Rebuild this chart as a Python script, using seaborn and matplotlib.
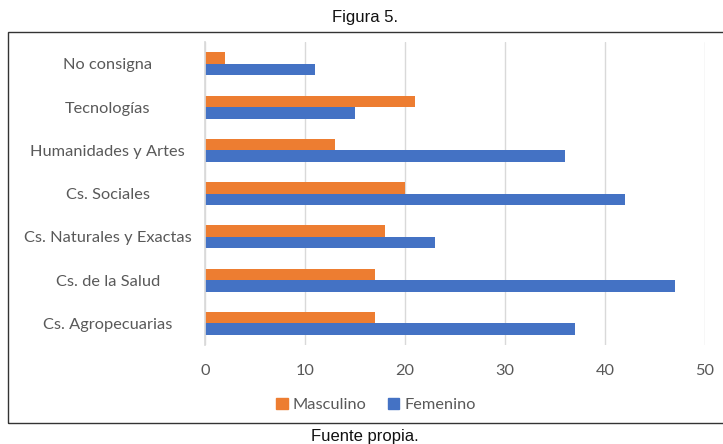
import pandas as pd
import matplotlib
matplotlib.use("Agg")
import matplotlib.pyplot as plt
import seaborn as sns
from matplotlib.patches import Rectangle

areas = ["No consigna", "Tecnologías", "Humanidades y Artes", "Cs. Sociales",
         "Cs. Naturales y Exactas", "Cs. de la Salud", "Cs. Agropecuarias"]
masculino = [2, 21, 13, 20, 18, 17, 17]
femenino = [11, 15, 36, 42, 23, 47, 37]
sexos = ["Masculino", "Femenino"]
colores = ["#ED7D31", "#4472C4"]

df = pd.DataFrame({
    "area": areas * 2,
    "valor": masculino + femenino,
    "sexo": ["Masculino"] * len(areas) + ["Femenino"] * len(areas),
})

sns.set_theme(style="white")
plt.rcParams["font.family"] = ["Lato", "DejaVu Sans"]
gris = "#595959"

fig = plt.figure(figsize=(7.23, 4.44), dpi=100)
ax = fig.add_axes([0.2835, 0.223, 0.6916, 0.682])

sns.barplot(data=df, y="area", x="valor", hue="sexo", order=areas, hue_order=sexos,
            palette=colores, width=0.53, orient="h", ax=ax, saturation=1,
            linewidth=0)

ax.set_xlim(0, 50)
ax.set_xticks(range(0, 51, 10))
ax.grid(axis="x", color="#D9D9D9", linewidth=1)
ax.set_axisbelow(True)
for s in ["top", "right", "bottom"]:
    ax.spines[s].set_visible(False)
ax.spines["left"].set_color("#D9D9D9")
ax.set_xlabel("")
ax.set_ylabel("")
ax.tick_params(axis="x", length=0, pad=14, labelsize=11.8, labelcolor=gris)
ax.tick_params(axis="y", length=0, pad=70, labelsize=11.8, labelcolor=gris)
for lbl in ax.get_yticklabels():
    lbl.set_horizontalalignment("center")

ax.get_legend().remove()
handles = [Rectangle((0, 0), 1, 1, color=c) for c in colores]
fig.legend(handles, sexos, loc="center", bbox_to_anchor=(0.52, 0.088), ncol=2,
           frameon=False, fontsize=11.8, labelcolor=gris, handlelength=0.7,
           handleheight=0.7, handletextpad=0.3, columnspacing=1.3)

# marco de la figura
fig.patches.append(Rectangle((0.011, 0.047), 1.0, 0.881, transform=fig.transFigure,
                             fill=False, edgecolor="#333333", linewidth=1))

fig.text(0.505, 0.96, "Figura 5.", ha="center", va="center", fontsize=12,
         family="Liberation Sans", color="#111111")
fig.text(0.505, 0.018, "Fuente propia.", ha="center", va="center", fontsize=12,
         family="Liberation Sans", color="#111111")

fig.savefig("out.png", dpi=100)
